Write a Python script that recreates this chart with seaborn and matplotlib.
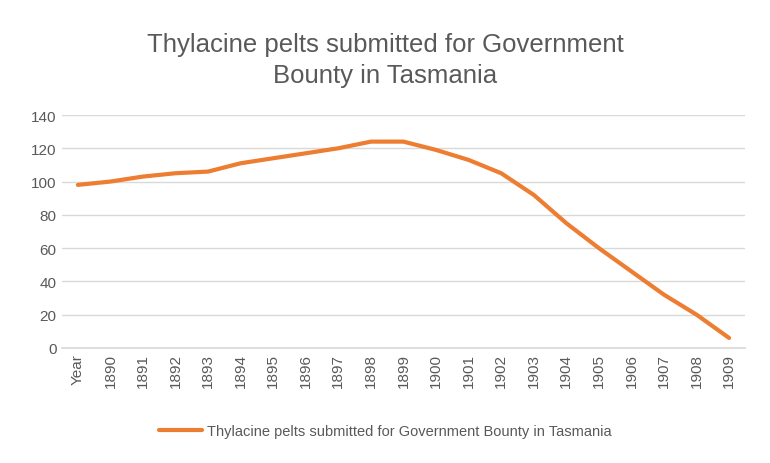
import numpy as np
import pandas as pd
import matplotlib
matplotlib.use("Agg")
import matplotlib.pyplot as plt
import seaborn as sns

# data
years = ["Year"] + [str(y) for y in range(1890, 1910)]
pelts = [98, 100, 103, 105, 106, 111, 114, 117, 120, 124, 124,
         119, 113, 105, 92, 75, 60, 46, 32, 20, 6]
series_name = "Thylacine pelts submitted for Government Bounty in Tasmania"

df = pd.DataFrame({"year": years, "pelts": pelts})
df["pos"] = np.arange(len(df))

sns.set_theme(style="white")
plt.rcParams['font.family'] = ['Liberation Sans', 'DejaVu Sans']

fig = plt.figure(figsize=(7.7, 4.64), dpi=100)
ax = fig.add_axes([0.08, 0.248, 0.888, 0.502])
sns.lineplot(data=df, x="pos", y="pelts", ax=ax, color="#ED7D31",
             linewidth=3, label=series_name, legend=False)

ax.set_xlim(-0.5, len(df) - 0.5)
ax.set_ylim(0, 140)
ax.set_yticks(range(0, 141, 20))
ax.set_xticks(df["pos"])
ax.set_xticklabels(df["year"], rotation=90)
ax.tick_params(axis="both", colors="#595959", labelsize=11, length=0)
ax.grid(axis="y", color="#D9D9D9", linewidth=1)
for s in ["top", "right", "left"]:
    ax.spines[s].set_visible(False)
ax.spines["bottom"].set_color("#D9D9D9")
ax.set_xlabel("")
ax.set_ylabel("")

fig.text(0.5, 0.87, "Thylacine pelts submitted for Government\nBounty in Tasmania",
         ha="center", va="center", fontsize=18.5, color="#595959", linespacing=1.35)

handles, labels = ax.get_legend_handles_labels()
fig.legend(handles, labels, loc="center", bbox_to_anchor=(0.5, 0.068),
           frameon=False, fontsize=10.5, labelcolor="#595959",
           handlelength=3, handletextpad=0.3)

fig.savefig("out.png", dpi=100)
